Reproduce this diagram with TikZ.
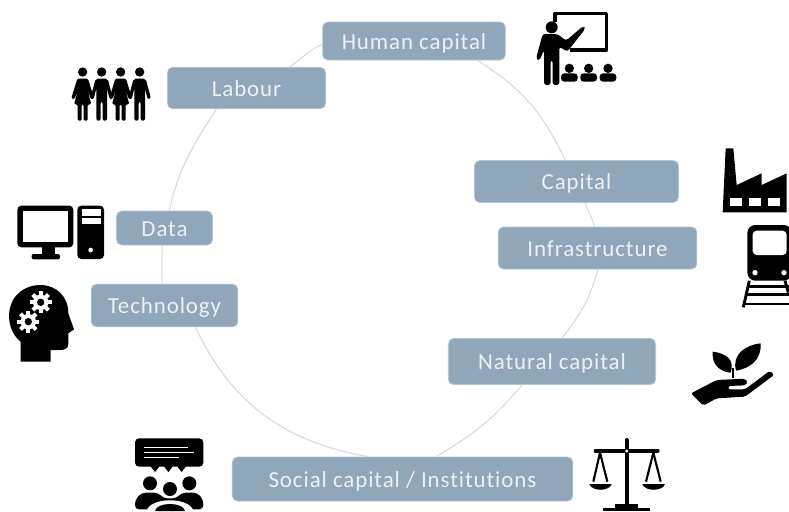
\documentclass[tikz,border=0pt]{standalone}
\usepackage{fontspec}
\setmainfont[LetterSpace=4,Ligatures=NoCommon]{Carlito}
\usepackage{xcolor}
\definecolor{boxblue}{HTML}{8FA6BB}
\definecolor{boxedge}{HTML}{B4C4D4}
\definecolor{boxtext}{HTML}{EDF1F5}
\definecolor{ringline}{HTML}{CFD8E4}
\tikzset{
  capbox/.style={draw=boxedge, fill=boxblue, text=boxtext, rounded corners=4pt, line width=0.6pt, inner sep=0pt, text height=14pt, text depth=2pt, font=\fontsize{17.2}{20}\selectfont},
  ring/.style={draw=ringline, line width=0.75pt},
  icon/.style={fill=black, draw=none},
  hole/.style={fill=white, draw=none},
  zoomed/.style={x=0.25pt, y=-0.25pt},
  guy/.pic={
    \fill[icon] (0,-49) circle (14);
    \fill[icon,rounded corners=1.5pt] (-18,-29) -- (18,-29) -- (34,30) -- (24,33) -- (16,0) -- (16,97) -- (3,97) -- (3,40) -- (-3,40) -- (-3,97) -- (-16,97) -- (-16,0) -- (-24,33) -- (-34,30) -- cycle;
  },
  gal/.pic={
    \fill[icon] (0,-49) circle (14);
    \fill[icon,rounded corners=1pt] (-16,-29) -- (16,-29) -- (34,30) -- (25,33) -- (14,4) -- (26,48) -- (15,48) -- (15,97) -- (3,97) -- (3,48) -- (-3,48) -- (-3,97) -- (-15,97) -- (-15,48) -- (-26,48) -- (-14,4) -- (-25,33) -- (-34,30) -- cycle;
  },
  gearwheel/.pic={
    \fill[hole] (0,0) circle (23);
    \foreach \t in {0,45,...,315} {
      \fill[hole,rotate=\t] (-6,18) rectangle (6,33);
    }
    \fill[icon] (0,0) circle (11);
  },
}
\begin{document}
\begin{tikzpicture}[x=0.75pt,y=-0.75pt]
  \useasboundingbox (0,0) rectangle (789,511);

  % boxes round the ring
  \node[capbox, minimum width=137pt, minimum height=28.5pt] (human) at (414,41) {Human capital};
  \node[capbox, minimum width=118.5pt, minimum height=31pt] (labour) at (246.5,88) {Labour};
  \node[capbox, minimum width=153pt, minimum height=31.5pt] (capital) at (576.5,181.5) {Capital};
  \node[capbox, minimum width=149pt, minimum height=31.5pt] (infra) at (597.5,248) {Infrastructure};
  \node[capbox, minimum width=155.5pt, minimum height=34.5pt] (natural) at (552,361.5) {Natural capital};
  \node[capbox, minimum width=255.5pt, minimum height=33pt] (social) at (402.5,479) {Social capital / Institutions};
  \node[capbox, minimum width=110pt, minimum height=32pt] (tech) at (164.5,305.5) {Technology};
  \node[capbox, minimum width=72pt, minimum height=25.5pt] (data) at (164.5,228) {Data};

  % the ring, piece by piece
  \draw[ring] (labour.26) to[out=35,in=205] (human.182);
  \draw[ring] (human.-17) to[out=-32,in=115] (capital.118);
  \draw[ring] (capital.-68) to[out=-72,in=100] (infra.99);
  \draw[ring] (infra.-89) to[out=-105,in=52] (natural.67);
  \draw[ring] (natural.218) to[out=-130,in=30] (social.34);
  \draw[ring] (social.147) to[out=170,in=-65] (tech.-35);
  \draw[ring] (tech.97) to[out=90,in=-90] (data.-98);
  \draw[ring] (data.75) to[out=77,in=-123] (labour.215);

  % people, labour
  \begin{scope}[zoomed]
    \pic at (248,265) {gal};
    \pic at (305,265) {guy};
    \pic at (362,265) {gal};
    \pic at (419,265) {guy};
  \end{scope}

  % teacher
  \begin{scope}[shift={(460,0)},zoomed]
    \draw[line width=2.5pt,line join=round] (285,65) -- (285,40) -- (440,40) -- (440,150) -- (330,150);
    \fill[icon] (275,82) circle (18);
    \fill[icon,rounded corners=2pt] (248,102) -- (292,102) -- (318,122) -- (370,78) -- (376,86) -- (322,155) -- (298,140) -- (298,255) -- (278,255) -- (278,180) -- (272,180) -- (272,255) -- (252,255) -- (252,150) -- (238,182) -- (228,176) -- cycle;
    \foreach \p in {328,386,444} {
      \fill[icon] (\p,205) circle (14);
      \fill[icon,rounded corners=2.5pt] (\p-25,245) -- (\p-25,220) -- (\p+25,220) -- (\p+25,245) -- cycle;
    }
  \end{scope}

  % factory
  \begin{scope}[shift={(460,0)},zoomed]
    \fill[icon] (797,445) -- (820,445) -- (830,555) -- (905,520) -- (905,555) -- (980,520) -- (980,637) -- (788,637) -- cycle;
    \foreach \p in {810,868,925} {
      \fill[hole] (\p,595) rectangle (\p+35,618);
    }
  \end{scope}

  % train, its right side runs off the page
  \begin{scope}[shift={(460,0)},zoomed]
    \fill[icon,rounded corners=6pt] (862,842) -- (862,675) -- (995,675) -- (995,842) -- cycle;
    \fill[hole,rounded corners=3pt] (878,692) rectangle (980,765);
    \fill[hole] (885,818) circle (8);
    \fill[hole] (972,818) circle (8);
    \draw[line width=2.2pt] (868,842) -- (850,922);
    \draw[line width=2.2pt] (975,842) -- (987,885);
    \foreach \p/\q in {860/864,884/859,912/852} {
      \draw[line width=2pt] (\q,\p) -- (987,\p);
    }
  \end{scope}

  % head with gears
  \begin{scope}[shift={(0,270)},zoomed]
    \fill[icon] (62,275) -- (62,215) .. controls (30,190) and (25,150) .. (28,125) .. controls (35,70) and (80,45) .. (120,45) .. controls (170,45) and (205,80) .. (205,130) -- (222,178) -- (205,190) -- (205,222) .. controls (205,235) and (195,240) .. (180,240) -- (152,240) -- (152,275) -- cycle;
    \pic at (122,97) {gearwheel};
    \pic at (85,155) {gearwheel};
  \end{scope}

  % computer
  \begin{scope}[zoomed]
    \fill[icon,rounded corners=3pt] (52,617) rectangle (220,742);
    \fill[hole] (68,632) rectangle (205,727);
    \fill[icon] (125,742) rectangle (165,765);
    \fill[icon,rounded corners=1.5pt] (95,762) rectangle (180,778);
    \fill[icon,rounded corners=3pt] (232,617) rectangle (312,777);
    \fill[hole] (245,628) rectangle (302,647);
    \fill[hole] (245,655) rectangle (302,673);
    \fill[hole] (272,750) circle (7);
  \end{scope}

  % speech bubble and listeners
  \begin{scope}[shift={(0,270)},zoomed]
    \fill[icon,rounded corners=3pt] (405,505) rectangle (610,590);
    \foreach \p in {465,505,545} {
      \fill[icon] (\p-14,588) -- (\p+14,588) -- (\p,606) -- cycle;
    }
    \draw[white,line width=1pt] (433,532) -- (565,532);
    \draw[white,line width=1pt] (433,547) -- (583,547);
    \draw[white,line width=1pt] (433,562) -- (538,562);
    \fill[icon] (450,640) circle (21);
    \fill[icon] (568,640) circle (21);
    \fill[icon,rounded corners=3pt] (405,718) -- (405,690) -- (425,668) -- (475,668) -- (490,685) -- (530,685) -- (545,668) -- (592,668) -- (610,690) -- (610,718) -- cycle;
    \fill[hole] (440,723) .. controls (450,680) and (570,680) .. (580,723) -- cycle;
    \fill[icon] (510,657) circle (21);
    \fill[icon] (465,723) .. controls (470,695) and (550,695) .. (555,723) -- cycle;
  \end{scope}

  % hand and plant
  \begin{scope}[shift={(560,330)},zoomed]
    \fill[icon,rounded corners=1.5pt] (393,190) -- (470,150) -- (555,146) -- (564,158) -- (555,166) -- (505,168) -- (505,178) -- (555,178) -- (630,122) -- (642,135) -- (555,200) -- (470,205) -- (430,227) -- cycle;
    \fill[icon] (458,65) .. controls (500,70) and (525,90) .. (512,128) .. controls (480,125) and (455,105) .. (458,65) -- cycle;
    \fill[icon] (602,40) .. controls (555,45) and (515,75) .. (528,122) .. controls (570,115) and (605,90) .. (602,40) -- cycle;
    \draw[line width=1.4pt] (518,115) -- (518,145);
  \end{scope}

  % scales
  \begin{scope}[shift={(560,330)},zoomed]
    \draw[line width=3pt,line cap=round] (200,330) -- (200,530);
    \draw[line width=3pt,line cap=round] (107,362) -- (293,362);
    \fill[hole] (200,363) circle (5);
    \draw[line width=1.6pt] (120,368) -- (100,455);
    \draw[line width=1.6pt] (120,368) -- (142,455);
    \draw[line width=1.6pt] (280,368) -- (258,455);
    \draw[line width=1.6pt] (280,368) -- (302,455);
    \fill[icon] (88,462) .. controls (95,485) and (148,485) .. (155,462) -- cycle;
    \fill[icon] (247,462) .. controls (254,485) and (308,485) .. (315,462) -- cycle;
    \fill[icon] (165,522) rectangle (235,535);
    \fill[icon] (130,533) rectangle (270,543);
  \end{scope}
\end{tikzpicture}
\end{document}
